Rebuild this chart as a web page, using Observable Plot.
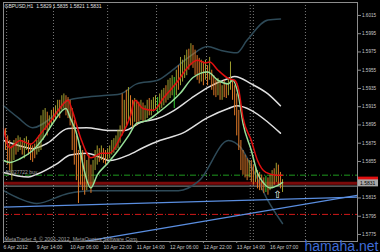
<!DOCTYPE html>
<html><head><meta charset="utf-8">
<script src="https://cdn.jsdelivr.net/npm/d3@7"></script>
<script src="https://cdn.jsdelivr.net/npm/@observablehq/plot@0.6"></script>
<style>body{margin:0;background:#000;overflow:hidden}</style>
</head><body><div id="chart"></div>
<script>
// ---- Data (GBPUSD H1) ----
const title = "GBPUSD,H1  1.5829 1.5835 1.5821 1.5831";
const high = [1.5889,1.5891,1.5883,1.5878,1.5872,1.5878,1.5880,1.5883,1.5881,1.5878,
1.5880,1.5882,1.5878,1.5874,1.5872,1.5874,1.5878,1.5883,1.5905,1.5911,
1.5913,1.5909,1.5905,1.5911,1.5913,1.5916,1.5922,1.5922,1.5927,1.5929,
1.5927,1.5925,1.5922,1.5913,1.5900,1.5883,1.5867,1.5872,1.5867,1.5862,
1.5856,1.5862,1.5851,1.5856,1.5867,1.5872,1.5869,1.5872,1.5869,1.5867,
1.5869,1.5872,1.5878,1.5880,1.5883,1.5889,1.5894,1.5929,1.5922,1.5933,
1.5936,1.5927,1.5922,1.5924,1.5922,1.5920,1.5922,1.5919,1.5916,1.5922,
1.5924,1.5922,1.5925,1.5927,1.5925,1.5929,1.5933,1.5935,1.5938,1.5944,
1.5946,1.5949,1.5947,1.5955,1.5960,1.5969,1.5966,1.5971,1.5977,1.5978,
1.5984,1.5982,1.5977,1.5971,1.5968,1.5966,1.5964,1.5966,1.5960,1.5969,
1.5955,1.5949,1.5944,1.5946,1.5942,1.5938,1.5944,1.5940,1.5946,1.5964,
1.5944,1.5938,1.5929,1.5911,1.5878,1.5867,1.5862,1.5858,1.5856,1.5856,
1.5851,1.5847,1.5845,1.5843,1.5840,1.5837,1.5839,1.5837,1.5840,1.5845,
1.5847,1.5853,1.5851,1.5843,1.5835];
const low = [1.5856,1.5867,1.5851,1.5845,1.5834,1.5856,1.5862,1.5865,1.5867,1.5862,
1.5858,1.5867,1.5862,1.5856,1.5854,1.5858,1.5862,1.5865,1.5867,1.5878,
1.5889,1.5883,1.5889,1.5894,1.5898,1.5900,1.5905,1.5902,1.5911,1.5913,
1.5905,1.5902,1.5894,1.5867,1.5851,1.5834,1.5809,1.5829,1.5823,1.5818,
1.5823,1.5829,1.5820,1.5829,1.5845,1.5851,1.5854,1.5856,1.5853,1.5851,
1.5856,1.5858,1.5862,1.5864,1.5867,1.5869,1.5875,1.5883,1.5889,1.5894,
1.5900,1.5894,1.5891,1.5898,1.5894,1.5898,1.5900,1.5898,1.5900,1.5902,
1.5905,1.5905,1.5909,1.5911,1.5908,1.5911,1.5913,1.5916,1.5919,1.5922,
1.5924,1.5927,1.5913,1.5927,1.5933,1.5938,1.5942,1.5946,1.5949,1.5955,
1.5960,1.5957,1.5949,1.5944,1.5940,1.5942,1.5938,1.5944,1.5938,1.5944,
1.5933,1.5927,1.5925,1.5927,1.5922,1.5922,1.5925,1.5924,1.5927,1.5933,
1.5922,1.5905,1.5883,1.5867,1.5845,1.5840,1.5837,1.5834,1.5837,1.5832,
1.5829,1.5832,1.5825,1.5823,1.5823,1.5820,1.5821,1.5818,1.5823,1.5825,
1.5829,1.5832,1.5829,1.5825,1.5821];
// d = bearish bar, u = bullish bar, g = bullish (bright) bar
const side = ("dddduuduud" + "uudddduuuu" + "uduuduuduu" + "dddddddddd" + "udduuududd" +
  "uuuuuuudud" + "uddudduduu" + "duuuguuudu" + "uuguduuuud" + "uddddududu" +
  "dddududduu" + "ddddddddud" + "duddddgduu" + "duddu").split("");
// moving averages & bands: [bar index, price]
const redMA = [[0,1.5891],[3,1.5870],[8,1.5878],[13,1.5874],[18,1.5886],[23,1.5900],[27,1.5913],[31,1.5922],[33,1.5911],[37,1.5881],[42,1.5859],[47,1.5864],[51,1.5864],[56,1.5881],[61,1.5905],[63,1.5922],[67,1.5913],[72,1.5911],[77,1.5925],[84,1.5944],[88,1.5957],[93,1.5966],[97,1.5963],[99,1.5964],[103,1.5955],[108,1.5946],[111,1.5944],[113,1.5933],[115,1.5903],[119,1.5878],[122,1.5856],[126,1.5843],[131,1.5840],[134,1.5840]];
const greenMA = [[0,1.5856],[3,1.5854],[8,1.5858],[14,1.5867],[19,1.5880],[24,1.5898],[30,1.5913],[32,1.5903],[36,1.5878],[38,1.5853],[42,1.5826],[45,1.5840],[50,1.5853],[55,1.5867],[60,1.5883],[64,1.5897],[69,1.5900],[74,1.5908],[80,1.5919],[85,1.5930],[91,1.5947],[98,1.5953],[103,1.5944],[108,1.5940],[110,1.5944],[113,1.5925],[115,1.5897],[119,1.5867],[122,1.5842],[125,1.5831],[128,1.5826],[132,1.5829],[134,1.5832]];
const whiteUpper = [[0,1.5878],[8,1.5872],[14,1.5869],[21,1.5875],[31,1.5891],[40,1.5892],[50,1.5889],[58,1.5889],[66,1.5898],[74,1.5902],[82,1.5911],[90,1.5924],[98,1.5936],[108,1.5946],[111,1.5948],[119,1.5940],[127,1.5929],[133,1.5916]];
const whiteLower = [[0,1.5843],[12,1.5838],[16,1.5841],[26,1.5853],[32,1.5862],[40,1.5864],[47,1.5859],[51,1.5856],[60,1.5862],[67,1.5870],[75,1.5878],[86,1.5886],[98,1.5903],[108,1.5913],[112,1.5916],[119,1.5911],[127,1.5898],[133,1.5886]];
const outerUpper = [[0,1.5916],[7,1.5903],[14,1.5892],[23,1.5903],[31,1.5922],[38,1.5925],[47,1.5927],[56,1.5929],[64,1.5940],[74,1.5944],[80,1.5953],[90,1.5971],[98,1.5981],[104,1.5977],[112,1.5974],[117,1.5988],[127,1.6010],[133,1.6011]];
const outerLower = [[0,1.5823],[8,1.5814],[16,1.5809],[31,1.5820],[42,1.5823],[56,1.5823],[70,1.5823],[84,1.5823],[94,1.5834],[108,1.5878],[114,1.5870],[120,1.5845],[127,1.5812],[134,1.5787]];
const trendA = [[0,1.5805],[170,1.5816]];
const trendB = [[35.5,1.5766],[170,1.5818]];
const daySeparators = [1.5,24,50,73.5,97.5,118.5,120,145];
const orderLevel = 1.5840, orderLabel = "#8027722 buy";
const stopLevel = 1.5797;
const askLevel = 1.5834, bidLevel = 1.5831;
const priceTicks = [1.6015,1.5995,1.5975,1.5955,1.5935,1.5915,1.5895,1.5875,1.5855,1.5815,1.5795,1.5775];
const timeTicks = [0,16,32,48,64,80,96,112,128];
const timeLabels = ["6 Apr 2012","9 Apr 14:00","10 Apr 06:00","10 Apr 22:00","11 Apr 14:00","12 Apr 06:00","12 Apr 22:00","13 Apr 14:00","16 Apr 07:00"];
const arrowAt = [131.5, 1.5819];
const copyright = "MetaTrader 4, © 2001-2012, MetaQuotes Software Corp.";
const watermark = "hamaha.net";

const bars = high.map((h, i) => ({i, high: h, low: low[i], side: side[i]}));
const colors = {d: "#e07a28", u: "#a0a030", g: "#30d030"};

function priceBox(price, fill, label) {
  return (index, scales, values, dims) => {
    const y = scales.y(price);
    const x0 = dims.width - dims.marginRight + 1;
    const g = d3.create("svg:g");
    g.append("rect").attr("x", x0).attr("y", y - 3.5).attr("width", 20).attr("height", 7).attr("fill", fill);
    if (label) g.append("text").attr("x", x0 + 2).attr("y", y + 2).attr("text-anchor", "start")
      .attr("font-size", 5).attr("font-family", "Liberation Sans").attr("fill", "#000").text(label);
    return g.node();
  };
}

const chart = Plot.plot({
  width: 380, height: 252,
  marginLeft: 3, marginRight: 23, marginTop: 2, marginBottom: 11,
  style: {background: "#000", color: "#c8c8c8", fontFamily: "Liberation Sans, sans-serif", fontSize: "5px"},
  x: {domain: [0, 170]},
  y: {domain: [1.57673, 1.60292]},
  marks: [
    Plot.ruleX(daySeparators, {stroke: "#7a7a7a", strokeDasharray: "1,2", strokeWidth: 1}),
    Plot.ruleY([orderLevel], {stroke: "#1f9a1f", strokeDasharray: "6,2,1,2"}),
    Plot.ruleY([stopLevel], {stroke: "#d01818", strokeDasharray: "6,2,1,2"}),
    Plot.ruleY([bidLevel], {stroke: "#7a0a0a", strokeWidth: 3}),
    Plot.ruleY([bidLevel - 0.0003], {stroke: "#909090", strokeWidth: 1}),
    Plot.line(outerUpper, {x: "0", y: "1", stroke: "#2e4a58", curve: "monotone-x"}),
    Plot.line(outerLower, {x: "0", y: "1", stroke: "#2e4a58", curve: "monotone-x"}),
    Plot.line(whiteUpper, {x: "0", y: "1", stroke: "#e0e0e0", curve: "monotone-x"}),
    Plot.line(whiteLower, {x: "0", y: "1", stroke: "#e0e0e0", curve: "monotone-x"}),
    Plot.ruleX(bars, {x: "i", y1: "low", y2: "high", stroke: d => colors[d.side], strokeWidth: 1}),
    Plot.line(greenMA, {x: "0", y: "1", stroke: "#98e098", curve: "monotone-x"}),
    Plot.line(redMA, {x: "0", y: "1", stroke: "#e01010", curve: "monotone-x"}),
    Plot.line(trendA, {x: "0", y: "1", stroke: "#5a8ee0", strokeWidth: 1.3, clip: true}),
    Plot.line(trendB, {x: "0", y: "1", stroke: "#5a8ee0", strokeWidth: 1.3, clip: true}),
    Plot.text([arrowAt], {x: "0", y: "1", text: () => "⇧", fill: "#ffffff", fontSize: 10, fontFamily: "DejaVu Sans"}),
    Plot.text([orderLabel], {x: () => 1, y: () => orderLevel + 0.0003, text: d => d, textAnchor: "start", fill: "#a0a0a0", fontSize: 5}),
    Plot.frame({stroke: "#8c8c8c"}),
    Plot.axisY({anchor: "right", ticks: priceTicks, tickFormat: d3.format(".4f"), tickSize: 3, tickPadding: 1.5, fill: "#c8c8c8", stroke: "#8c8c8c", fontSize: 4.6}),
    Plot.axisX({anchor: "bottom", ticks: timeTicks, tickFormat: d => timeLabels[timeTicks.indexOf(d)], tickSize: 2, tickPadding: 1.5, textAnchor: "start", dx: 0, fill: "#c8c8c8", stroke: "#8c8c8c", fontSize: 5}),
    priceBox(askLevel, "#e01010", null),
    priceBox(bidLevel, "#a8a8a8", "1.5831"),
    Plot.text([title], {frameAnchor: "top-left", dx: 1, dy: 2, textAnchor: "start", lineAnchor: "top", fill: "#e0e0e0", fontSize: 5}),
    Plot.text([copyright], {frameAnchor: "bottom-left", dx: 1, dy: -1, textAnchor: "start", lineAnchor: "bottom", fill: "#a0a0a0", fontSize: 5.3}),
    Plot.text([watermark], {frameAnchor: "bottom-right", dx: 21, dy: 9, textAnchor: "end", lineAnchor: "bottom", fill: "#3f6cd6", fontSize: 14, fontFamily: "Liberation Sans"})
  ]
});
document.getElementById("chart").append(chart);
</script>
</body></html>
